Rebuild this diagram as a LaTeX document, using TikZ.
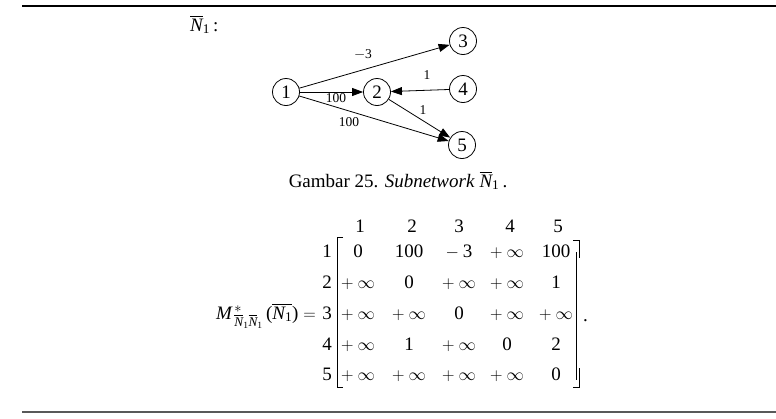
\documentclass[tikz,border=0pt]{standalone}
\usepackage{fontspec}
\usepackage{amsmath}
\setmainfont{Liberation Serif}
\usetikzlibrary{arrows.meta}
\newcommand\bigtxt{\fontsize{19}{22}\selectfont}
\newcommand\lbltxt{\fontsize{13.5}{15}\selectfont}
\newcommand\NB{\overline{\text{\itshape N}}}
\tikzset{
  vtx/.style={circle,draw,line width=0.8pt,minimum size=27pt,inner sep=0pt,font=\bigtxt},
  arc/.style={line width=0.8pt,-{Triangle[length=11pt,width=8pt]}},
  elbl/.style={font=\lbltxt,inner sep=0pt},
  ent/.style={font=\bigtxt,inner sep=0pt,anchor=base},
  brk/.style={line width=0.9pt},
}
\begin{document}
\begin{tikzpicture}[x=1pt,y=-1pt]
\useasboundingbox (0,0) rectangle (776,418);
% rules
\coordinate (tl) at (22,6); \coordinate (tr) at (776,6);
\draw[line width=1.4pt] (tl) -- (tr);
\coordinate (bl) at (22,412); \coordinate (br) at (776,412);
\draw[line width=2pt,black!65] (bl) -- (br);
% title
\node[ent,anchor=base west] (title) at (190,31) {$\NB_{\text{1}}$\,:};
% graph
\node[vtx] (n1) at (286,92) {1};
\node[vtx] (n2) at (377,92) {2};
\node[vtx] (n3) at (463,41) {3};
\node[vtx] (n4) at (463,89) {4};
\node[vtx] (n5) at (462,145) {5};
\draw[arc] (n1) -- (n3);
\draw[arc] (n1) -- (n2);
\draw[arc] (n4) -- (n2);
\draw[arc] (n2) -- (n5);
\draw[arc] (n1) -- (n5);
\node[elbl] (l13) at (363,55) {$-$3};
\node[elbl] (l12) at (336,98) {100};
\node[elbl] (l42) at (427,75) {1};
\node[elbl] (l25) at (423,110) {1};
\node[elbl] (l15) at (349,122) {100};
% caption
\node[ent] (cap) at (398,187) {Gambar 25. \textit{Subnetwork} $\NB_{\text{1}}$\,.};
% matrix header
\foreach \c/\x in {1/360,2/412,3/459,4/510,5/558}
  \node[ent] (h\c) at (\x,232) {\c};
% row labels
\foreach \r/\y in {1/257,2/288,3/319,4/350,5/380}
  \node[ent] (r\r) at (327,\y) {\r};
% entries
\def\pinf{$+\mskip4mu\infty$}
\node[ent] (m11) at (358,257) {0};
\node[ent] (m12) at (409,257) {100};
\node[ent] (m13) at (459,257) {$-\mskip4mu$3};
\node[ent] (m14) at (507,257) {\pinf};
\node[ent] (m15) at (556,257) {100};
\node[ent] (m21) at (358,288) {\pinf};
\node[ent] (m22) at (409,288) {0};
\node[ent] (m23) at (459,288) {\pinf};
\node[ent] (m24) at (507,288) {\pinf};
\node[ent] (m25) at (556,288) {1};
\node[ent] (m31) at (358,319) {\pinf};
\node[ent] (m32) at (409,319) {\pinf};
\node[ent] (m33) at (459,319) {0};
\node[ent] (m34) at (507,319) {\pinf};
\node[ent] (m35) at (556,319) {\pinf};
\node[ent] (m41) at (358,350) {\pinf};
\node[ent] (m42) at (409,350) {1};
\node[ent] (m43) at (459,350) {\pinf};
\node[ent] (m44) at (507,350) {0};
\node[ent] (m45) at (556,350) {2};
\node[ent] (m51) at (358,380) {\pinf};
\node[ent] (m52) at (409,380) {\pinf};
\node[ent] (m53) at (459,380) {\pinf};
\node[ent] (m54) at (507,380) {\pinf};
\node[ent] (m55) at (556,380) {0};
% brackets
\draw[brk] (343,237) -- (337,237) -- (337,387) -- (343,387);
\draw[brk] (573,240) -- (579.5,240) -- (579.5,258);
\draw[brk] (576,252) -- (576,380);
\draw[brk] (579.5,368) -- (579.5,387) -- (573,387);
\node[ent,anchor=base west] (dot) at (583,321) {.};
% left-hand side
\node[ent,anchor=base east] (lhs) at (316,319)
  {$\text{\itshape M}^{\,*}_{\,\NB_{\text{1}}\NB_{\text{1}}}\,\text{(}\overline{\text{\itshape N}_{\text{1}}}\text{)}=$};
\end{tikzpicture}
\end{document}
